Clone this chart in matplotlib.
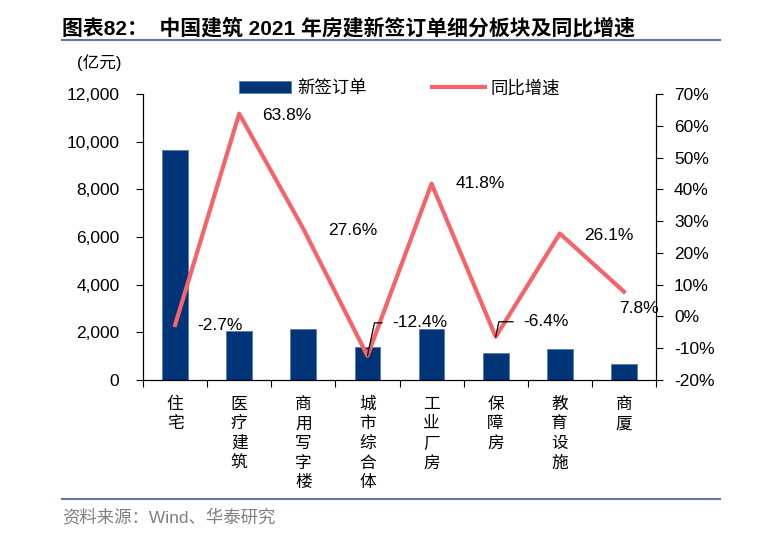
import matplotlib
matplotlib.use("Agg")
import matplotlib.pyplot as plt
from matplotlib.ticker import FuncFormatter, FixedLocator

plt.rcParams['font.family'] = ['Liberation Sans', 'Noto Sans CJK SC', 'DejaVu Sans']

# data
cats = ["住宅", "医疗建筑", "商用写字楼", "城市综合体", "工业厂房", "保障房", "教育设施", "商厦"]
orders = [9650, 2060, 2140, 1390, 2140, 1130, 1300, 670]      # 亿元
growth = [-2.7, 63.8, 27.6, -12.4, 41.8, -6.4, 26.1, 7.8]      # %
# label offsets (px right, px up) from each point
lab_off = [(45, 0), (48, -2), (49, -2), (52, 33), (49, 0), (50, 15), (49, -2), (15, -17)]
leader = [False, False, False, True, False, True, False, False]

bar_c = "#003478"
line_c = "#F6646A"

fig = plt.figure(figsize=(7.59, 5.43), dpi=100)
ax = fig.add_axes([143/759, 1-380/543, 513/759, 286/543])
x = list(range(len(cats)))
ax.bar(x, orders, width=0.4, color=bar_c, edgecolor="#5B7BA6", linewidth=0.6,
       label="新签订单", zorder=2)
ax.set_xlim(-0.5, len(cats)-0.5)
ax.set_ylim(0, 12000)
ax.set_yticks(range(0, 12001, 2000))
ax.yaxis.set_major_formatter(FuncFormatter(lambda v, p: f"{int(v):,}"))
ax.tick_params(axis='y', labelsize=12.5, length=5, direction='out', pad=12)
ax.xaxis.set_major_locator(FixedLocator([i - 0.5 for i in range(len(cats)+1)]))
ax.set_xticklabels([])
ax.tick_params(axis='x', length=5, direction='out')
for i, c in enumerate(cats):
    ax.text(i, -0.055, "\n".join(c), transform=ax.get_xaxis_transform(),
            ha='center', va='top', fontsize=12, linespacing=1.2,
            family=['Noto Sans CJK SC'])
ax.spines['top'].set_visible(False)

ax2 = ax.twinx()
ax2.plot(x, growth, color=line_c, lw=3, label="同比增速", zorder=3)
ax2.set_ylim(-20, 70)
ax2.set_yticks(range(-20, 71, 10))
ax2.yaxis.set_major_formatter(FuncFormatter(lambda v, p: f"{int(v)}%"))
ax2.tick_params(axis='y', labelsize=12.5, length=5, direction='out', pad=8)
ax2.spines['top'].set_visible(False)

for i, (g, (dx, dy), ld) in enumerate(zip(growth, lab_off, leader)):
    if ld:
        ax2.annotate(f"{g}%", xy=(i, g), xytext=(dx*0.72, dy*0.72),
                     textcoords='offset points', ha='center', va='center',
                     fontsize=12.5,
                     arrowprops=dict(arrowstyle='-', color='black', lw=0.9,
                                     relpos=(0, 0.5), shrinkA=5, shrinkB=0,
                                     connectionstyle="angle,angleA=0,angleB=78,rad=0"))
    else:
        ax2.annotate(f"{g}%", xy=(i, g), xytext=(dx*0.72, dy*0.72),
                     textcoords='offset points', ha='center', va='center',
                     fontsize=12.5)

# legend
h1, l1 = ax.get_legend_handles_labels()
h2, l2 = ax2.get_legend_handles_labels()
leg = ax2.legend(h1 + h2, l1 + l2, loc='center', bbox_to_anchor=(0.5, 1.02),
                 ncol=2, frameon=False, handlelength=3.0,
                 columnspacing=3.8, handletextpad=0.35, borderaxespad=0,
                 prop={'family': ['Noto Sans CJK SC'], 'size': 12.5})

fig.text(99/759, 1-63/543, "(亿元)", ha='center', va='center', fontsize=12)

# title and frame lines
fig.text(62/759, 1-28/543, "图表82：  中国建筑 2021 年房建新签订单细分板块及同比增速",
         ha='left', va='center', fontsize=15, fontweight='bold')
fig.add_artist(plt.Line2D([62/759, 720/759], [1-40/543, 1-40/543], color="#5B7BA6", lw=1.5))
fig.add_artist(plt.Line2D([62/759, 720/759], [1-499/543, 1-499/543], color="#5B7BA6", lw=1.5))
fig.text(62/759, 1-517/543, "资料来源：Wind、华泰研究", ha='left', va='center',
         fontsize=12.5, color="#808080")

fig.savefig("out.png", dpi=100)
